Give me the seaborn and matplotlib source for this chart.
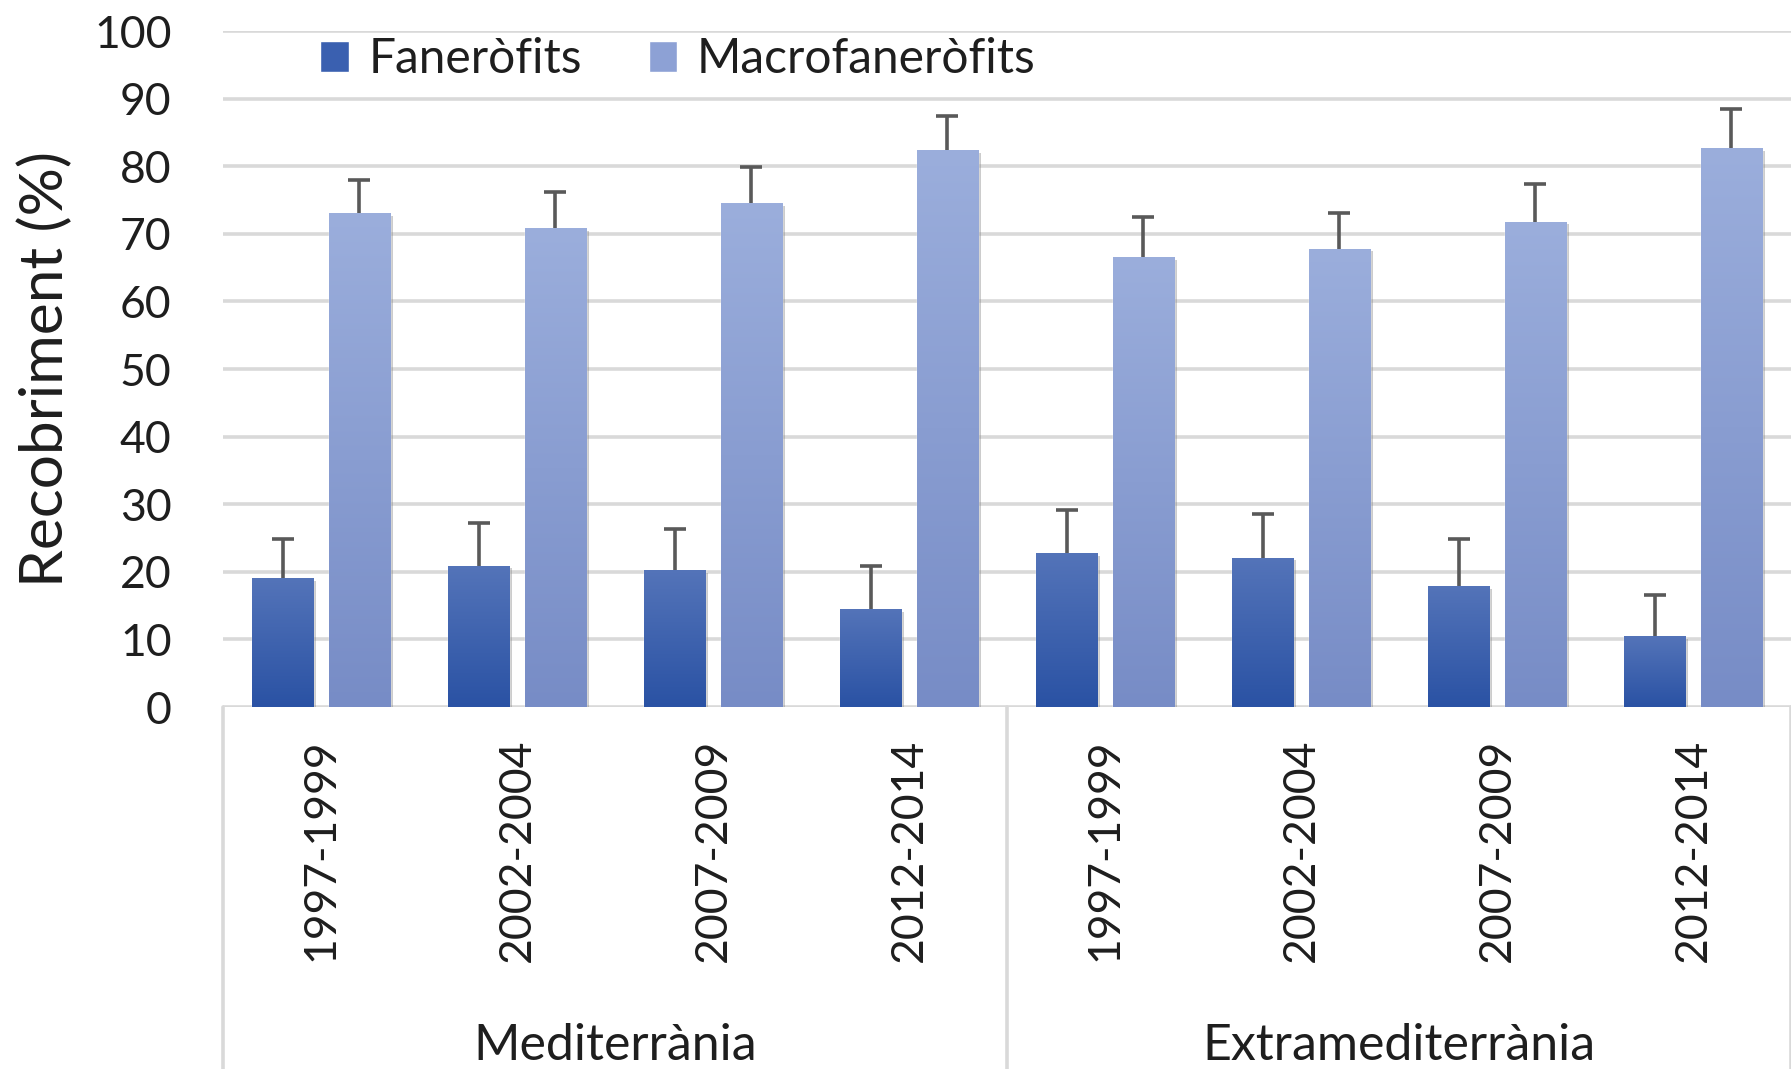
import numpy as np
import pandas as pd
import matplotlib
matplotlib.use('Agg')
import matplotlib.pyplot as plt
import matplotlib.patheffects as pe
import matplotlib.transforms as mtransforms
from matplotlib.colors import LinearSegmentedColormap
from matplotlib.patches import Patch
import seaborn as sns

# ---- data ----
regions = ['Mediterrània', 'Extramediterrània']
periods = ['1997-1999', '2002-2004', '2007-2009', '2012-2014']
series = ['Faneròfits', 'Macrofaneròfits']
fanerofits = [19.1, 20.9, 20.3, 14.5, 22.8, 22.1, 17.9, 10.5]
fanerofits_err = [5.7, 6.3, 6.1, 6.3, 6.3, 6.4, 6.9, 6.1]
macrofanerofits = [73.1, 70.8, 74.5, 82.4, 66.6, 67.8, 71.8, 82.7]
macrofanerofits_err = [4.9, 5.4, 5.4, 5.1, 5.9, 5.3, 5.6, 5.8]
yticks = list(range(0, 101, 10))
ylabel = 'Recobriment (%)'

# ---- styling ----
F_TOP, F_BOT, F_MID = '#5474B9', '#2A52A4', '#3A60B0'
M_TOP, M_BOT, M_MID = '#9BAEDC', '#778CC6', '#8DA1D5'
GRID = '#D9D9D9'
TXT = '#1e1e1e'
FS = 32

keys = [f'{r}|{p}' for r in regions for p in periods]
df = pd.DataFrame({
    'key': keys * 2,
    'series': [series[0]] * len(keys) + [series[1]] * len(keys),
    'value': fanerofits + macrofanerofits,
})

sns.set_style('white')
plt.rcParams['font.family'] = ['Lato', 'DejaVu Sans']

W, H = 1791, 1069
fig = plt.figure(figsize=(W / 100, H / 100), dpi=100)
left_px, top_px, bot_px = 223, 31, 707
ax = fig.add_axes([left_px / W, (H - bot_px) / H, 1 - left_px / W, (bot_px - top_px) / H])

sns.barplot(data=df, x='key', y='value', hue='series', order=keys, hue_order=series,
            palette=[F_MID, M_MID], saturation=1, width=0.78, gap=0.2,
            errorbar=None, legend=False, ax=ax, zorder=3)

# gradient fill + soft shadow on the seaborn bars
grads = [(F_BOT, F_TOP), (M_BOT, M_TOP)]
grad = np.linspace(0, 1, 256).reshape(-1, 1)
for cont, (cb, ct) in zip(ax.containers, grads):
    cmap = LinearSegmentedColormap.from_list('g', [cb, ct])
    for bar in cont:
        bar.set_path_effects([pe.SimplePatchShadow(offset=(2, -2), shadow_rgbFace='#808080', alpha=0.4),
                              pe.Normal()])
        x0, y0, w, h = bar.get_x(), bar.get_y(), bar.get_width(), bar.get_height()
        im = ax.imshow(grad, cmap=cmap, origin='lower', aspect='auto',
                       extent=[x0, x0 + w, y0, y0 + h], zorder=3.1, interpolation='bilinear')
        im.set_clip_path(bar)

# upper-only error bars
for cont, err in zip(ax.containers, [fanerofits_err, macrofanerofits_err]):
    xs = np.array([b.get_x() + b.get_width() / 2 for b in cont])
    ys = np.array([b.get_height() for b in cont])
    eb = ax.errorbar(xs, ys, yerr=[np.zeros(len(err)), err], fmt='none', ecolor='#595959',
                     elinewidth=2.6, capsize=8, capthick=2.6, zorder=4)
    for cl in eb[1]:
        if np.allclose(cl.get_ydata(), ys):
            cl.set_visible(False)

n = len(periods)
ax.set_xlim(-0.5, len(keys) - 0.5)
ax.set_ylim(yticks[0], yticks[-1])
ax.set_yticks(yticks)
ax.set_yticklabels([str(t) for t in yticks])
ax.yaxis.grid(True, color=GRID, lw=2.6, zorder=0)
ax.xaxis.grid(False)
ax.set_axisbelow(True)
for s in ax.spines.values():
    s.set_visible(False)
ax.tick_params(axis='y', length=0, labelsize=FS, pad=37, labelcolor=TXT)
ax.set_xticks(range(len(keys)))
ax.set_xticklabels(periods * len(regions), rotation=90, va='top', ha='center')
ax.tick_params(axis='x', length=0, labelsize=FS, pad=23, labelcolor=TXT)
ax.set_xlabel('')
ax.set_ylabel('')

# category axis box
trans = mtransforms.blended_transform_factory(ax.transData, ax.transAxes)
bottom_frac = -(H - bot_px) / (bot_px - top_px)
for i in range(len(regions) + 1):
    xb = i * n - 0.5
    ax.plot([xb, xb], [0, bottom_frac], transform=trans, color=GRID, lw=2.6,
            clip_on=False, zorder=1)
for i, r in enumerate(regions):
    ax.text(i * n + (n - 1) / 2, -0.502, r, transform=trans, ha='center', va='center',
            fontsize=36, color=TXT)

ax.text(-0.113, 0.5, ylabel, transform=ax.transAxes, rotation=90, ha='center', va='center',
        fontsize=43.5, color=TXT)

handles = [Patch(facecolor=F_MID), Patch(facecolor=M_MID)]
ax.legend(handles, series, loc='center left', bbox_to_anchor=(0.062, 0.958), ncol=2,
          frameon=False, fontsize=34.5, handlelength=0.6, handleheight=0.6, handletextpad=0.4,
          columnspacing=1.4, borderaxespad=0, borderpad=0, labelcolor=TXT)

fig.savefig('out.png', dpi=100)
